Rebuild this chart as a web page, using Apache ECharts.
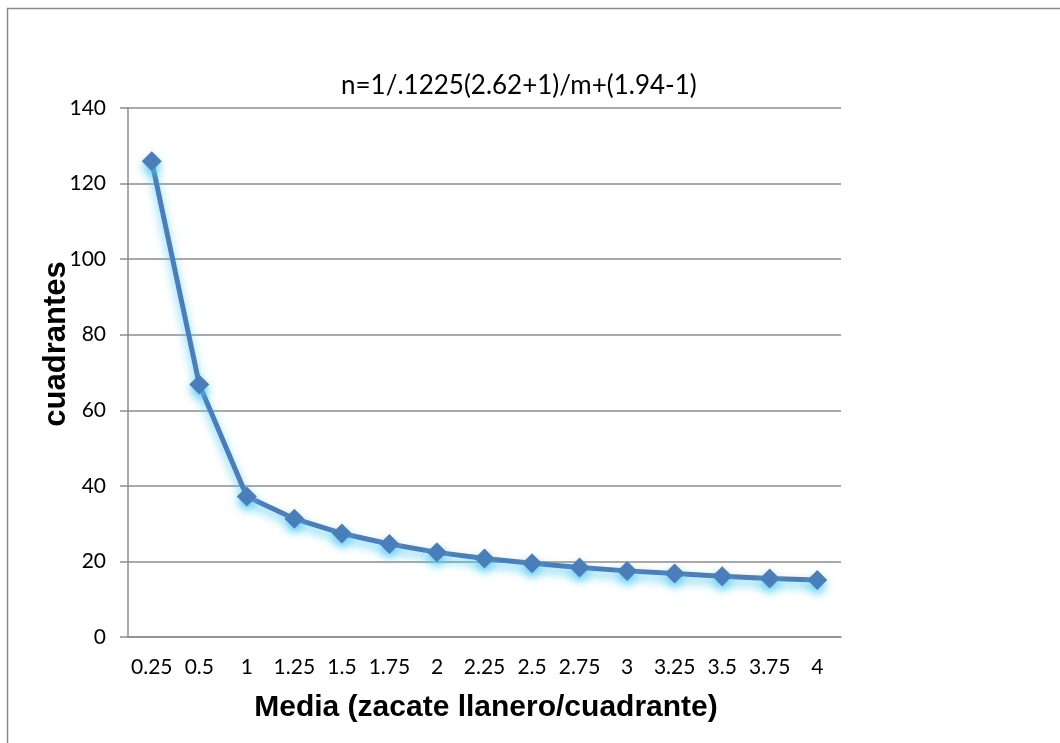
<!DOCTYPE html>
<html>
<head>
<meta charset="utf-8">
<script src="https://cdn.jsdelivr.net/npm/echarts@6/dist/echarts.min.js"></script>
<style>
  html, body { margin: 0; padding: 0; background: #fff; }
  #chart { width: 1060px; height: 743px; }
</style>
</head>
<body>
<div id="chart"></div>
<script>
// Mean density (m) on the x axis, required number of quadrats (n) on the y axis
const categories = ['0.25', '0.5', '1', '1.25', '1.5', '1.75', '2', '2.25', '2.5', '2.75', '3', '3.25', '3.5', '3.75', '4'];
const cuadrantes = [125.9, 66.8, 37.2, 31.3, 27.4, 24.6, 22.4, 20.8, 19.5, 18.4, 17.5, 16.8, 16.1, 15.5, 15.1];
const yTicks = { min: 0, max: 140, interval: 20 };

const titleText = 'n=1/.1225(2.62+1)/m+(1.94-1)';
const xName = 'Media (zacate llanero/cuadrante)';
const yName = 'cuadrantes';

const chart = echarts.init(document.getElementById('chart'), null, { renderer: 'canvas' });

const tickFont = { fontFamily: 'Lato, "Open Sans", sans-serif', fontSize: 21, color: '#000' };

chart.setOption({
  animation: false,
  backgroundColor: '#fff',
  title: {
    text: titleText,
    left: 341,
    top: 73,
    padding: 0,
    textStyle: { fontFamily: 'Lato, "Open Sans", sans-serif', fontSize: 26, fontWeight: 'normal', color: '#000' }
  },
  graphic: [
    {
      type: 'rect',
      shape: { x: 7.5, y: 8.5, width: 1200, height: 1000 },
      style: { fill: 'none', stroke: '#8a8a8a', lineWidth: 1.5 },
      silent: true
    },
    {
      type: 'text',
      x: 486, y: 708,
      style: {
        text: xName, fill: '#000',
        font: 'bold 30px "Liberation Sans", Arial, sans-serif',
        textAlign: 'center', textVerticalAlign: 'middle'
      }
    },
    {
      type: 'text',
      x: 56, y: 344,
      rotation: Math.PI / 2,
      style: {
        text: yName, fill: '#000',
        font: 'bold 31px "Liberation Sans", Arial, sans-serif',
        textAlign: 'center', textVerticalAlign: 'middle'
      }
    }
  ],
  grid: { left: 128, right: 219, top: 108, bottom: 106, containLabel: false },
  xAxis: {
    type: 'category',
    data: categories,
    boundaryGap: true,
    axisLine: { show: true, lineStyle: { color: '#8c8c8c', width: 1.5 } },
    axisTick: { show: false },
    axisLabel: Object.assign({ margin: 20, interval: 0 }, tickFont),
    splitLine: { show: false }
  },
  yAxis: {
    type: 'value',
    min: yTicks.min,
    max: yTicks.max,
    interval: yTicks.interval,
    axisLine: { show: true, lineStyle: { color: '#8c8c8c', width: 1.5 } },
    axisTick: { show: true, length: 8, lineStyle: { color: '#8c8c8c', width: 1.5 } },
    axisLabel: Object.assign({ margin: 22 }, tickFont),
    splitLine: { show: true, lineStyle: { color: '#8c8c8c', width: 1.5 } }
  },
  series: [{
    type: 'line',
    data: cuadrantes,
    symbol: 'diamond',
    symbolSize: [20, 20],
    lineStyle: {
      color: '#4a7ebb', width: 5,
      shadowColor: 'rgba(80, 200, 235, 0.85)', shadowBlur: 10, shadowOffsetY: 5
    },
    itemStyle: {
      color: '#4a7ebb',
      shadowColor: 'rgba(80, 200, 235, 0.85)', shadowBlur: 10, shadowOffsetY: 5
    },
    z: 3
  }]
});
</script>
</body>
</html>
